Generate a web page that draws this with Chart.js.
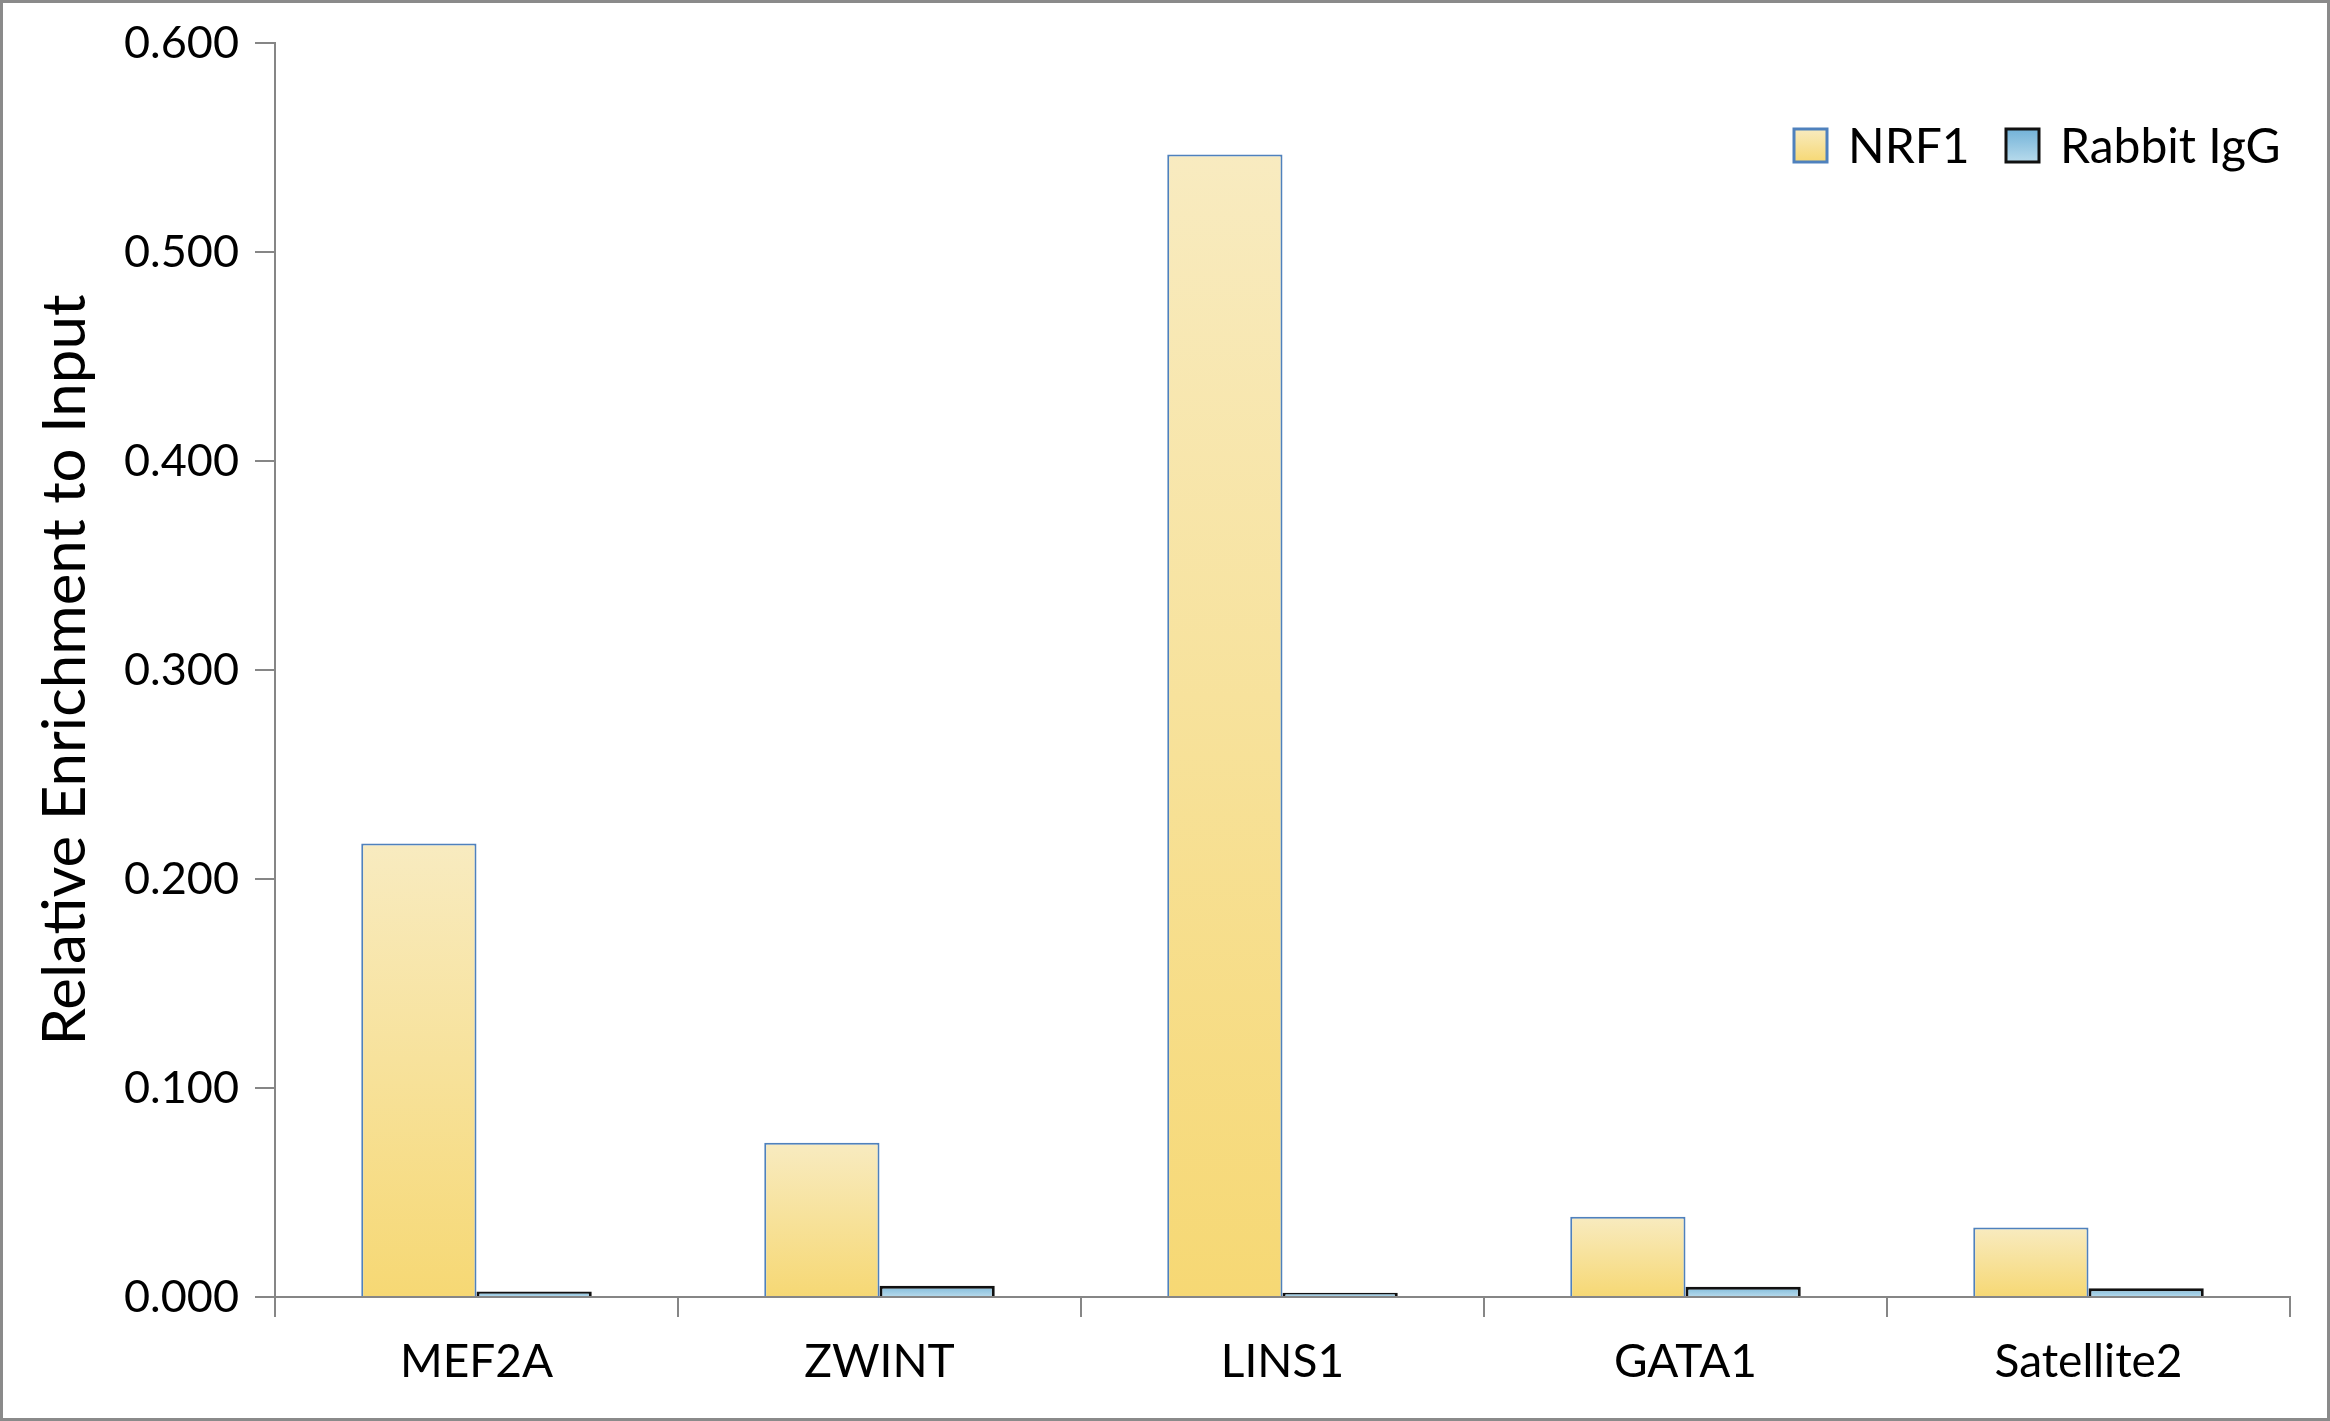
<!DOCTYPE html>
<html>
<head>
<meta charset="utf-8">
<script src="https://cdn.jsdelivr.net/npm/chart.js@4"></script>
<style>
  html, body { margin: 0; padding: 0; background: #fff; }
  canvas { display: block; }
</style>
</head>
<body>
<canvas id="enrichChart" width="2330" height="1421"></canvas>
<script>
const categories = ['MEF2A', 'ZWINT', 'LINS1', 'GATA1', 'Satellite2'];
const nrf1Values = [0.217, 0.0738, 0.5466, 0.0384, 0.0333];
const iggValues = [0.0026, 0.0054, 0.0020, 0.0049, 0.0042];
const seriesNames = ['NRF1', 'Rabbit IgG'];
const yTickLabels = ['0.000', '0.100', '0.200', '0.300', '0.400', '0.500', '0.600'];

const FONT = 'Lato, "Open Sans", sans-serif';

// per-bar vertical gradient, from the bar top to the zero line
function barGradient(topColor, bottomColor) {
    return function (ctx) {
        const chart = ctx.chart;
        if (!chart.chartArea || ctx.type !== 'data') return bottomColor;
        const y = chart.scales.y;
        const top = y.getPixelForValue(ctx.raw);
        const base = y.getPixelForValue(0);
        const g = chart.ctx.createLinearGradient(0, top, 0, base);
        g.addColorStop(0, topColor);
        g.addColorStop(1, bottomColor);
        return g;
    };
}

const legendStyles = [
    { top: '#F8EBC0', bottom: '#F6D874', border: '#4F81BD' },
    { top: '#72B2D8', bottom: '#B8DBEC', border: '#111111' }
];

const frameAndLegend = {
    id: 'frameAndLegend',
    beforeDraw(chart) {
        const c = chart.ctx;
        c.save();
        c.fillStyle = '#fff';
        c.fillRect(0, 0, chart.width, chart.height);
        c.restore();
    },
    afterDraw(chart) {
        const c = chart.ctx;
        c.save();
        // outer frame
        c.strokeStyle = '#8a8a8a';
        c.lineWidth = 3;
        c.strokeRect(1.5, 1.5, chart.width - 3, chart.height - 3);

        // legend, top right
        const boxX = [1794, 2006];
        const boxY = 129, box = 33;
        c.font = '48px ' + FONT;
        c.textBaseline = 'middle';
        seriesNames.forEach((name, i) => {
            const s = legendStyles[i];
            const g = c.createLinearGradient(0, boxY, 0, boxY + box);
            g.addColorStop(0, s.top);
            g.addColorStop(1, s.bottom);
            c.fillStyle = g;
            c.fillRect(boxX[i], boxY, box, box);
            c.strokeStyle = s.border;
            c.lineWidth = 3;
            c.strokeRect(boxX[i], boxY, box, box);
            c.fillStyle = '#000';
            c.fillText(name, boxX[i] + box + 21, boxY + box / 2 + 2);
        });
        c.restore();
    }
};

new Chart(document.getElementById('enrichChart'), {
    type: 'bar',
    data: {
        labels: categories,
        datasets: [{
            label: seriesNames[0],
            data: nrf1Values,
            backgroundColor: barGradient('#F8EBC0', '#F6D874'),
            borderColor: '#4F81BD',
            borderWidth: 2
        }, {
            label: seriesNames[1],
            data: iggValues,
            backgroundColor: barGradient('#7DB9DA', '#B8DBEC'),
            borderColor: '#111111',
            borderWidth: 3
        }]
    },
    plugins: [frameAndLegend],
    options: {
        responsive: false,
        animation: false,
        devicePixelRatio: 1,
        layout: { padding: { top: 43, right: 40, bottom: 0, left: 0 } },
        datasets: {
            bar: { categoryPercentage: 0.572, barPercentage: 1.0, borderSkipped: 'start' }
        },
        plugins: {
            legend: { display: false },
            tooltip: { enabled: false }
        },
        scales: {
            x: {
                afterFit: axis => { axis.height = 124; },
                grid: {
                    display: true, drawOnChartArea: false, drawTicks: true,
                    tickLength: 20, color: '#868686', lineWidth: 2
                },
                border: { color: '#868686', width: 2 },
                ticks: {
                    color: '#000', padding: 18,
                    font: { family: FONT, size: 46 }
                }
            },
            y: {
                min: 0,
                max: 0.6,
                afterFit: axis => { axis.width = 275; },
                grid: {
                    display: true, drawOnChartArea: false, drawTicks: true,
                    tickLength: 20, color: '#868686', lineWidth: 2
                },
                border: { color: '#868686', width: 2 },
                ticks: {
                    stepSize: 0.1,
                    color: '#000', padding: 16,
                    font: { family: FONT, size: 45 },
                    callback: (v, i) => yTickLabels[i]
                },
                title: {
                    display: true,
                    text: 'Relative Enrichment to Input',
                    color: '#000',
                    font: { family: FONT, size: 60 },
                    padding: { top: 30, bottom: 0 }
                }
            }
        }
    }
});
</script>
</body>
</html>
